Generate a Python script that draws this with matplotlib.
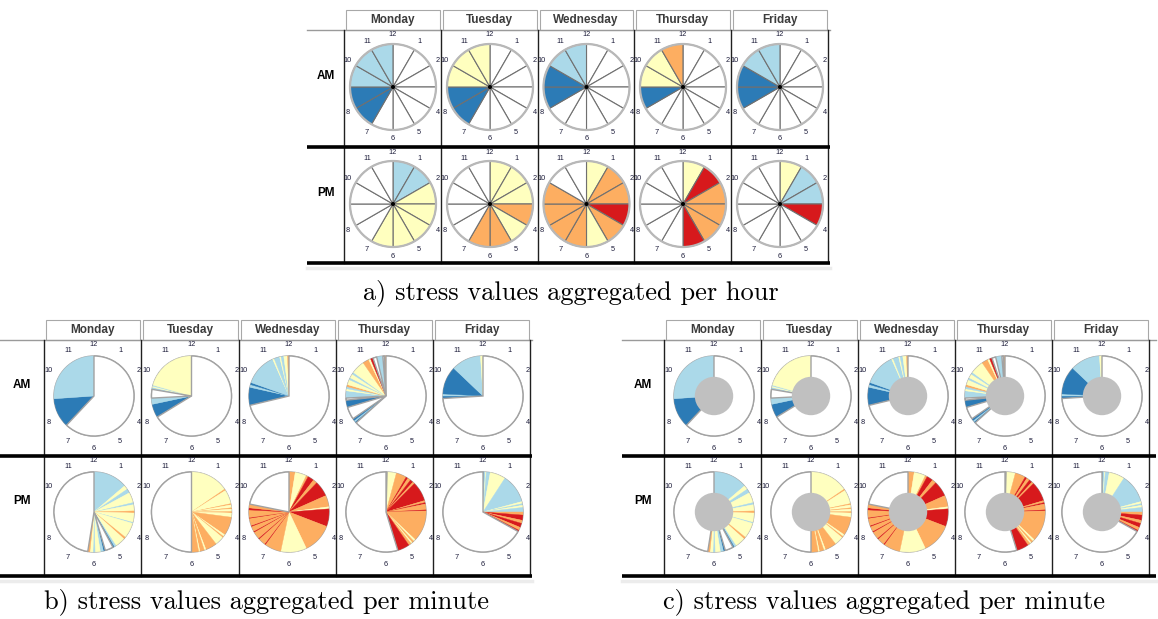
import numpy as np
import matplotlib.pyplot as plt
from matplotlib.patches import Wedge, Circle, Rectangle

DAYS = ["Monday", "Tuesday", "Wednesday", "Thursday", "Friday"]
ROWS = ["AM", "PM"]
CLOCK_LABELS = [12, 1, 2, 4, 5, 6, 7, 8, 10, 11]
# 0 = no data, 1 = very low ... 5 = very high stress
LEVEL_COLORS = ["white", "#2c7bb6", "#abd9e9", "#ffffbf", "#fdae61", "#d7191c"]

# hourly levels, index 0 = 12-1 o'clock ... index 11 = 11-12
HOUR_AM = [
    [0, 0, 0, 0, 0, 0, 0, 1, 1, 2, 2, 2],
    [0, 0, 0, 0, 0, 0, 0, 1, 1, 3, 3, 3],
    [0, 0, 0, 0, 0, 0, 0, 0, 1, 1, 2, 2],
    [0, 0, 0, 0, 0, 0, 0, 0, 1, 3, 3, 4],
    [0, 0, 0, 0, 0, 0, 0, 0, 1, 1, 2, 2],
]
HOUR_PM = [
    [2, 2, 3, 3, 3, 3, 3, 0, 0, 0, 0, 0],
    [3, 3, 3, 4, 3, 4, 4, 0, 0, 0, 0, 0],
    [3, 4, 4, 5, 4, 3, 4, 4, 4, 4, 0, 0],
    [3, 5, 4, 4, 4, 5, 0, 0, 0, 0, 0, 0],
    [3, 2, 2, 5, 0, 0, 0, 0, 0, 0, 0, 0],
]

# per-minute runs: (start hour, end hour, level), clock hours 0..12
MIN_AM = [
    [(7.44, 8.87, 1), (8.87, 12.0, 2)],
    [(7.95, 8.6, 1), (8.6, 8.9, 2), (9.32, 9.42, 2), (9.42, 9.48, 3),
     (9.48, 9.53, 2), (9.53, 12.0, 3)],
    [(8.55, 9.42, 1), (9.42, 9.55, 2), (9.55, 9.65, 1), (9.65, 11.2, 2),
     (11.2, 11.28, 3), (11.28, 11.55, 2), (11.55, 11.62, 3), (11.62, 11.75, 2),
     (11.75, 11.93, 3), (11.93, 12.0, 4)],
    [(7.6, 7.68, 1), (7.68, 7.75, 2), (7.75, 7.85, 1), (8.45, 8.8, 1),
     (8.9, 9.25, 2), (9.25, 9.35, 3), (9.35, 9.45, 2), (9.45, 9.55, 4),
     (9.55, 9.8, 3), (9.8, 9.9, 2), (9.9, 10.1, 3), (10.1, 10.2, 2),
     (10.2, 10.85, 3), (10.85, 11.15, 4), (11.15, 11.25, 3), (11.25, 11.37, 5),
     (11.55, 11.85, 2), (11.93, 12.0, 4)],
    [(8.88, 9.0, 1), (9.0, 9.1, 2), (9.1, 10.45, 1), (10.45, 11.88, 2),
     (11.88, 12.0, 3)],
]
MIN_PM = [
    [(0.0, 1.65, 2), (1.65, 1.85, 3), (1.85, 2.05, 2), (2.05, 2.55, 3),
     (2.55, 2.65, 2), (2.65, 2.95, 3), (2.95, 3.05, 4), (3.05, 3.5, 3),
     (3.5, 3.55, 2), (3.55, 4.3, 3), (4.3, 4.4, 4), (4.4, 4.9, 3),
     (4.9, 5.0, 2), (5.0, 5.06, 1), (5.45, 5.55, 1), (5.55, 5.7, 2),
     (5.7, 5.95, 3), (5.95, 6.05, 2), (6.05, 6.2, 3), (6.2, 6.3, 4)],
    [(0.0, 1.85, 3), (1.85, 1.92, 4), (1.92, 2.6, 3), (2.6, 2.66, 4),
     (2.66, 2.8, 3), (2.8, 2.86, 4), (2.86, 2.98, 3), (2.98, 3.05, 4),
     (3.05, 3.25, 3), (3.25, 4.15, 4), (4.15, 4.25, 3), (4.25, 4.32, 4),
     (4.32, 4.75, 3), (4.75, 5.3, 4), (5.3, 5.38, 3), (5.38, 5.6, 4),
     (5.6, 5.66, 3), (5.66, 6.0, 4)],
    [(0.0, 0.3, 4), (0.3, 0.85, 3), (0.85, 0.95, 4), (0.95, 1.25, 5),
     (1.25, 1.45, 4), (1.45, 2.2, 5), (2.2, 2.75, 4), (2.75, 2.85, 3),
     (2.85, 3.7, 5), (3.7, 5.15, 4), (5.15, 6.4, 3), (6.4, 7.2, 4),
     (7.2, 7.25, 5), (7.25, 7.6, 4), (7.6, 7.65, 5), (7.65, 8.0, 4),
     (8.0, 8.05, 5), (8.05, 8.3, 4), (8.3, 8.35, 5), (8.35, 8.7, 4),
     (8.7, 8.74, 5), (8.74, 9.1, 4), (9.1, 9.2, 5), (9.2, 9.38, 4)],
    [(0.05, 0.5, 3), (0.5, 1.0, 4), (1.0, 1.1, 5), (1.1, 1.25, 4),
     (1.25, 1.4, 5), (1.4, 1.5, 4), (1.5, 2.45, 5), (2.45, 2.55, 4),
     (2.55, 2.62, 5), (2.62, 2.9, 4), (2.9, 2.95, 5), (2.95, 4.45, 4),
     (4.45, 4.55, 3), (4.55, 4.65, 4), (4.65, 4.72, 3), (4.72, 4.85, 4),
     (4.85, 5.43, 5)],
    [(0.0, 0.04, 1), (0.04, 0.12, 2), (0.12, 0.16, 3), (0.16, 0.35, 2),
     (0.35, 1.1, 3), (1.1, 2.5, 2), (2.5, 2.6, 3), (2.6, 2.68, 2),
     (2.68, 2.78, 3), (2.78, 3.0, 2), (3.0, 3.15, 4), (3.15, 3.4, 5),
     (3.4, 3.55, 4), (3.55, 3.75, 5), (3.75, 3.9, 4), (3.9, 3.97, 5)],
]

CAPTIONS = ["a) stress values aggregated per hour",
            "b) stress values aggregated per minute",
            "c) stress values aggregated per minute"]

W, H = 1158, 619
fig = plt.figure(figsize=(W / 100, H / 100), dpi=100)
ax = fig.add_axes([0, 0, 1, 1])
ax.set_xlim(0, W)
ax.set_ylim(H, 0)
ax.axis("off")

SANS = "Liberation Sans"


def ang(h):
    # clock hour -> wedge angle (y axis is inverted, so this runs clockwise)
    return -90 + 30 * h


def clock_labels(cx, cy):
    for h in CLOCK_LABELS:
        t = np.deg2rad(30 * (h % 12))
        ax.text(cx + 52 * np.sin(t), cy - 52 * np.cos(t), str(h), fontsize=5.3,
                family=SANS, color="#1c1c3a", ha="center", va="center")


def hour_pie(cx, cy, r, levels):
    for i, lev in enumerate(levels):
        ax.add_patch(Wedge((cx, cy), r, ang(i), ang(i + 1), fc=LEVEL_COLORS[lev],
                           ec="#707070", lw=0.8))
    ax.add_patch(Circle((cx, cy), r, fill=False, ec="#b8b8b8", lw=1.6))
    ax.add_patch(Circle((cx, cy), 1.3, color="black"))


def minute_pie(cx, cy, r, segs, donut):
    t = 0.0
    holes = []
    for s, e, lev in sorted(segs):
        if s - t > 1e-3:
            holes.append((t, s))
        t = max(t, e)
    if 12 - t > 1e-3:
        holes.append((t, 12))
    for s, e, lev in segs:
        c = LEVEL_COLORS[lev]
        ax.add_patch(Wedge((cx, cy), r, ang(s), ang(e), fc=c, ec=c, lw=0.3))
    for s, e in holes:
        ax.add_patch(Wedge((cx, cy), r, ang(s), ang(e), fc="white",
                           ec="#a2a2a2", lw=1.0))
    if donut:
        ax.add_patch(Circle((cx, cy), 0.48 * r, color="#c0c0c0", lw=0))


def table(left, right, cols, top, hb, sep, bottom, row_y):
    for i, d in enumerate(DAYS):
        ax.add_patch(Rectangle((cols[i] + 1.5, top), cols[i + 1] - cols[i] - 3, hb - top,
                               fc="white", ec="#a8a8a8", lw=0.8))
        ax.text((cols[i] + cols[i + 1]) / 2, (top + hb) / 2 + 0.5, d, fontsize=8.5,
                family=SANS, weight="bold", color="#3c3c3c", ha="center", va="center")
    ax.plot([left, right], [hb, hb], color="#9a9a9a", lw=1.0)
    for x in cols:
        ax.plot([x, x], [hb, bottom], color="#202020", lw=1.0)
    ax.plot([left, right], [sep, sep], color="black", lw=2.6, solid_capstyle="butt")
    ax.plot([left, right], [bottom, bottom], color="black", lw=2.6, solid_capstyle="butt")
    ax.plot([left, right], [bottom + 5, bottom + 5], color="#ececec", lw=2.5)
    for j, lab in enumerate(ROWS):
        ax.text((left + cols[0]) / 2, row_y[j] - 11, lab, fontsize=8.5, family=SANS,
                weight="bold", color="black", ha="center", va="center")


# panel a: hourly
cols_a = [344, 441, 538, 634, 731, 828]
rows_a = [87, 204]
table(307, 830, cols_a, 10, 30, 147, 263, rows_a)
for j, data in enumerate([HOUR_AM, HOUR_PM]):
    for i in range(5):
        cx = (cols_a[i] + cols_a[i + 1]) / 2 + 0.5
        hour_pie(cx, rows_a[j], 43, data[i])
        clock_labels(cx, rows_a[j])
ax.text(571, 293, CAPTIONS[0], family="cmr10", fontsize=19, ha="center", va="center")

# panels b and c: per minute
rows_bc = [396, 512]
for cols, left, right, donut, cap_x, cap in [
        ([44, 141, 239, 336, 433, 530], 0, 532, False, 266, CAPTIONS[1]),
        ([664, 761, 858, 955, 1052, 1149], 622, 1156, True, 884, CAPTIONS[2])]:
    table(left, right, cols, 320, 340, 456, 576, rows_bc)
    for j, data in enumerate([MIN_AM, MIN_PM]):
        for i in range(5):
            cx = (cols[i] + cols[i + 1]) / 2 + 1.5
            cy = rows_bc[j]
            ax.add_patch(Circle((cx, cy), 40, fc="white", ec="#a2a2a2", lw=1.0))
            minute_pie(cx, cy, 40, data[i], donut)
            clock_labels(cx, cy)
    ax.text(cap_x, 602, cap, family="cmr10", fontsize=19, ha="center", va="center")

fig.savefig("out.png", dpi=100, facecolor="white")
